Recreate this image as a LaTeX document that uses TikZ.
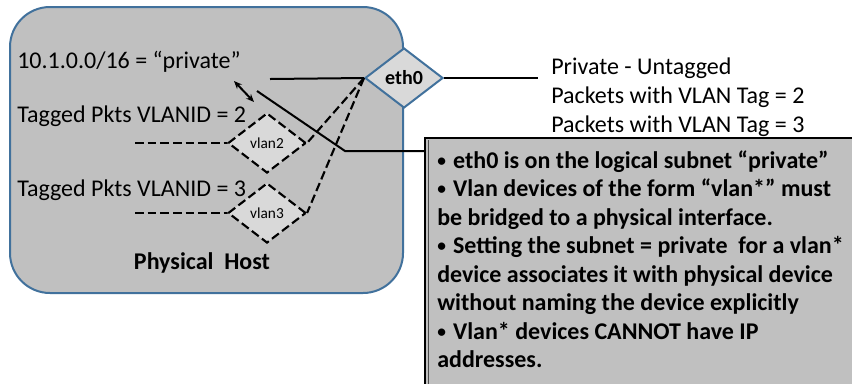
\documentclass[tikz,border=0pt]{standalone}
\usepackage{fontspec}
\setmainfont{Carlito}
\usetikzlibrary{shapes.geometric,arrows.meta}
\definecolor{hostfill}{HTML}{C0C0C0}
\definecolor{hostline}{RGB}{65,113,156}
\definecolor{dfill}{HTML}{D9D9D9}
\newcommand{\nbul}{{\fontsize{13}{13}\selectfont\raisebox{1.2pt}{•}}\hspace{0.3em}}
\begin{document}
\begin{tikzpicture}[x=0.75pt,y=-0.75pt,
  lbl/.style={inner sep=0pt,anchor=base west,font=\fontsize{18}{21}\selectfont},
  notelbl/.style={inner sep=0pt,anchor=base west,font=\fontsize{18}{21}\selectfont\bfseries},
  dev/.style={shape=diamond,inner sep=0pt,fill=dfill,minimum width=58.5pt,minimum height=45pt},
  conn/.style={line width=1.5pt,black},
  dconn/.style={line width=1.6pt,black,dash pattern=on 6.5pt off 3pt}
]
\clip (0,0) rectangle (852,383);
\fill[white] (0,0) rectangle (852,383);

% physical host
\draw[line width=1.5pt,draw=hostline,fill=hostfill,rounded corners=30pt] (10,7) rectangle (403,293);

% note box
\draw[line width=1.5pt,fill=hostfill] (425,138) rectangle (870,400);
\draw[line width=0.6pt,gray!60!black] (428.5,140) -- (428.5,400);

% host texts
\node[lbl] (ip) at (17,68) {10.1.0.0/16 = “private”};
\node[lbl] (t2) at (17,122) {Tagged Pkts VLANID = 2};
\node[lbl] (t3) at (17,196) {Tagged Pkts VLANID = 3};
\node[inner sep=0pt,anchor=base,font=\fontsize{18}{21}\selectfont\bfseries] (hostlbl) at (202,269) {Physical\hspace{0.45em}Host};

% devices
\node[dev,draw=hostline,line width=1.5pt,font=\fontsize{15}{18}\selectfont\bfseries] (eth0) at (404,78) {eth0};
\node[dev,draw=black,line width=1.6pt,dash pattern=on 6.5pt off 3pt,font=\fontsize{11.5}{14}\selectfont] (vlan2) at (267,143) {vlan2};
\node[dev,draw=black,line width=1.6pt,dash pattern=on 6.5pt off 3pt,font=\fontsize{11.5}{14}\selectfont] (vlan3) at (267,213) {vlan3};

% coordinates
\coordinate (ethin) at (270,79);
\coordinate (ethout) at (538,78);
\coordinate (v2in) at (135,143);
\coordinate (v3in) at (135,213);
\coordinate (arrA) at (234,81);
\coordinate (arrB) at (254,102);
\coordinate (callA) at (257,91);
\coordinate (callB) at (345,151);
\coordinate (callC) at (425,151);

% connectors
\draw[conn] (ethin) -- (eth0.west);
\draw[conn] (eth0.east) -- (ethout);
\draw[dconn] (eth0.west) -- (vlan2.east);
\draw[dconn] (eth0.west) -- (vlan3.east);
\draw[dconn] (v2in) -- (vlan2.west);
\draw[dconn] (v3in) -- (vlan3.west);
\draw[conn,{Stealth[length=6pt,width=5pt]}-{Stealth[length=6pt,width=5pt]}] (arrA) -- (arrB);
\draw[conn] (callA) -- (callB) -- (callC);

% right labels
\node[lbl] (r1) at (551,74) {Private - Untagged};
\node[lbl] (r2) at (551,103) {Packets with VLAN Tag = 2};
\node[lbl] (r3) at (551,132) {Packets with VLAN Tag = 3};

% note text
\node[notelbl] (n1) at (437,168) {\nbul eth0 is on the logical subnet “private”};
\node[notelbl] (n2) at (437,196.5) {\nbul Vlan devices of the form “vlan*” must};
\node[notelbl] (n3) at (437,225) {be bridged to a physical interface.};
\node[notelbl] (n4) at (437,253.5) {\nbul Setting the subnet = private\ \ for a vlan*};
\node[notelbl] (n5) at (437,282) {device associates it with physical device};
\node[notelbl] (n6) at (437,310.5) {without naming the device explicitly};
\node[notelbl] (n7) at (437,339) {\nbul Vlan* devices CANNOT have IP};
\node[notelbl] (n8) at (437,367.5) {addresses.};
\end{tikzpicture}
\end{document}
